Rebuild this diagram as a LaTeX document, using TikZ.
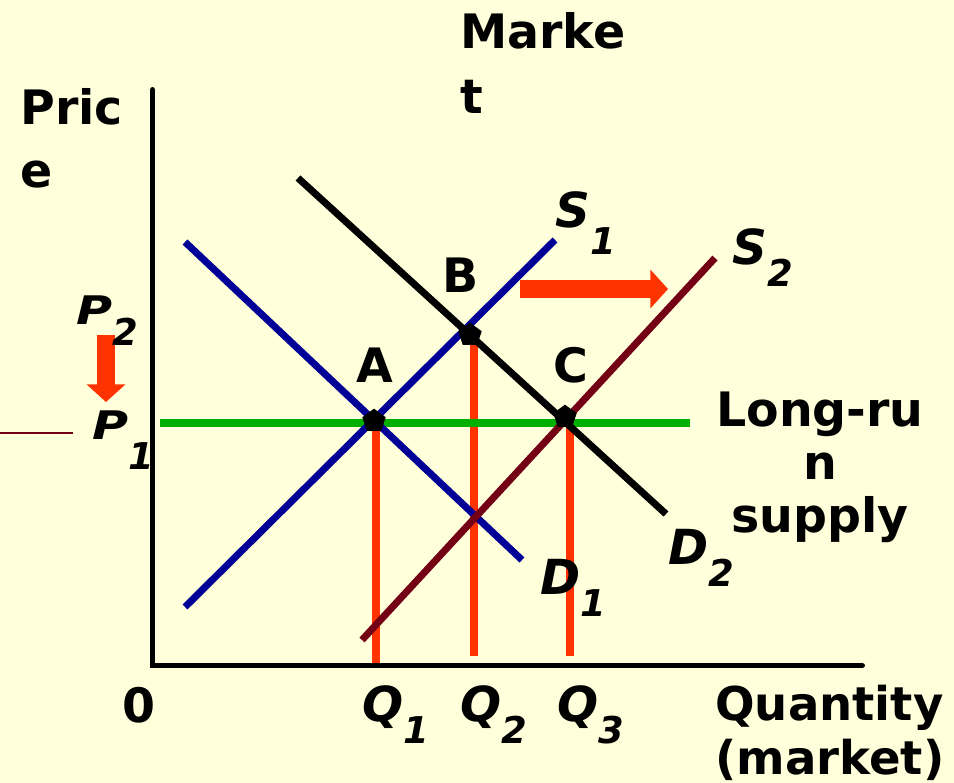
\documentclass[tikz,border=0pt]{standalone}
\usepackage{fontspec}
\usepackage{graphicx}
\setmainfont{DejaVu Sans}
\usetikzlibrary{arrows.meta,shapes.geometric}
\definecolor{bg}{RGB}{255,255,220}
\definecolor{sblue}{RGB}{0,0,150}
\definecolor{sred}{RGB}{115,0,20}
\definecolor{lrgreen}{RGB}{0,176,0}
\definecolor{arrowred}{RGB}{255,51,0}
\newcommand\bigtxt{\fontsize{27}{36}\selectfont\bfseries}
\newcommand\sublbl[3][-12pt]{{\fontsize{27.5}{28}\selectfont\bfseries\itshape #2}\raisebox{#1}{\fontsize{21}{21}\selectfont\bfseries\itshape #3}}
\newcommand\plbl[3][-11.5pt]{\scalebox{1}[0.8]{\fontsize{28}{28}\selectfont\bfseries\itshape #2}\raisebox{#1}{\fontsize{21}{21}\selectfont\bfseries\itshape #3}}
\tikzset{
  lbl/.style={inner sep=0pt, anchor=base west},
  eqpt/.style={regular polygon, regular polygon sides=5, fill=black, inner sep=0pt, minimum size=14pt},
  mktline/.style={line width=4pt},
  qline/.style={draw=arrowred, line width=4.5pt},
  axis/.style={line width=3.4pt, line cap=round},
  shiftarrow/.style={draw=arrowred, line width=10pt, -{Triangle[length=10pt,width=21.5pt]}}
}
\begin{document}
\begin{tikzpicture}[x=0.02cm,y=-0.02cm]
\fill[bg] (0,0) rectangle (954,783);
\useasboundingbox (0,0) rectangle (954,783);

\coordinate (O) at (152.5,665.5);
\coordinate (ytop) at (152.5,90);
\coordinate (xend) at (862,665.5);
\coordinate (A) at (374,421);
\coordinate (B) at (470,335);
\coordinate (C) at (565,417);
\coordinate (q1) at (376,665);
\coordinate (q2) at (474,656);
\coordinate (q3) at (570,656);
\coordinate (lrA) at (160,423);
\coordinate (lrB) at (690,423);
\coordinate (D1a) at (185,242);
\coordinate (D1b) at (522,560);
\coordinate (S1a) at (185,607);
\coordinate (S1b) at (555,240);
\coordinate (D2a) at (298,178);
\coordinate (D2b) at (666,514);
\coordinate (S2a) at (362,640);
\coordinate (S2b) at (715,258);
\coordinate (oldP) at (0,433);
\coordinate (oldPe) at (73,433);
\coordinate (shA) at (520,289);
\coordinate (shB) at (668,289);
\coordinate (dnA) at (106,335);
\coordinate (dnB) at (106,402);

\draw[qline] (q1 |- A) -- (q1);
\draw[qline] (q2 |- B) -- (q2);
\draw[qline] (q3 |- C) -- (q3);
\draw[lrgreen, line width=4.5pt] (lrA) -- (lrB);
\draw[sblue, mktline] (D1a) -- (D1b);
\draw[sblue, mktline] (S1a) -- (S1b);
\draw[black, mktline] (D2a) -- (D2b);
\draw[sred, mktline] (S2a) -- (S2b);
\draw[axis] (ytop) -- (O) -- (xend);
\draw[sred, line width=1.4pt] (oldP) -- (oldPe);
\draw[shiftarrow] (shA) -- (shB);
\draw[shiftarrow] (dnA) -- (dnB);

\node[eqpt] (ptA) at (A) {};
\node[eqpt] (ptB) at (B) {};
\node[eqpt] (ptC) at (C) {};

\node[inner sep=0pt, anchor=base, font=\bigtxt] (lblA) at (375,383) {A};
\node[inner sep=0pt, anchor=base, font=\bigtxt] (lblB) at (461,293) {B};
\node[inner sep=0pt, anchor=base, font=\bigtxt] (lblC) at (571,383) {C};

\node[inner sep=0pt, anchor=north west, align=left, font=\bigtxt] (price) at (20,88) {Pric\\e};
\node[inner sep=0pt, anchor=north west, align=left, font={\fontsize{27}{37}\selectfont\bfseries}] (market) at (460,12) {Marke\\t};
\node[inner sep=0pt, anchor=north, align=center, font={\fontsize{27}{30}\selectfont\bfseries}] (lrs) at (820,392) {Long-ru\\n\\supply};
\node[inner sep=0pt, anchor=north west, align=left, font={\fontsize{26.5}{30.5}\selectfont\bfseries}] (qty) at (715,685) {Quantity\\(market)};
\node[lbl, font=\bigtxt] (zero) at (122,723) {0};

\node[lbl] (lblS1) at (555,228) {\sublbl[-15pt]{S}{1}};
\node[lbl] (lblS2) at (732,265) {\sublbl{S}{2}};
\node[lbl] (lblD1) at (540,595) {\sublbl{D}{1}};
\node[lbl] (lblD2) at (668,565) {\sublbl{D}{2}};
\node[lbl] (lblQ1) at (362,722) {\sublbl{Q}{1}};
\node[lbl] (lblQ2) at (460,722) {\sublbl{Q}{2}};
\node[lbl] (lblQ3) at (557,722) {\sublbl{Q}{3}};
\node[lbl] (lblP2) at (76,325) {\plbl{P}{2}};
\node[lbl] (lblP1) at (92,440) {\plbl[-17pt]{P}{1}};
\end{tikzpicture}
\end{document}
